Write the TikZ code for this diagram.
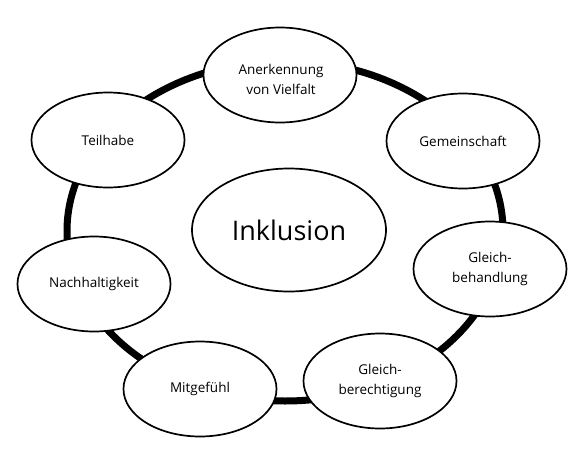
\documentclass[tikz,border=0pt]{standalone}
\usepackage{fontspec}
\setmainfont{Open Sans}
\usetikzlibrary{shapes.geometric}
\begin{document}
\begin{tikzpicture}[x=1pt,y=-1pt,
  bubble/.style={draw=black,line width=1.7pt,fill=white,ellipse,inner sep=0pt,
    minimum width=153pt,minimum height=95pt,align=center,font=\fontsize{13.5}{20}\selectfont},
  ring/.style={draw=black,line width=7pt}]
\useasboundingbox[fill=white] (0,0) rectangle (586,466);
\draw[ring] (285,231) ellipse [x radius=218pt, y radius=170pt];
\node[bubble] (anerk) at (280,75) {};
\node[align=center,font=\fontsize{13.5}{20}\selectfont] (anerkt) at (281,79) {Anerkennung\\von Vielfalt};
\node[bubble] (gemein) at (463,141) {Gemeinschaft};
\node[bubble] (gbeh) at (490,269) {Gleich-\\behandlung};
\node[bubble] (gber) at (380,381) {Gleich-\\berechtigung};
\node[bubble] (mitg) at (200,389) {Mitgefühl};
\node[bubble] (nach) at (94,284) {Nachhaltigkeit};
\node[bubble] (teil) at (108,140) {Teilhabe};
\node[bubble,minimum width=194pt,minimum height=123pt,font=\fontsize{27}{30}\selectfont] (inkl) at (289,230) {Inklusion};
\end{tikzpicture}
\end{document}
